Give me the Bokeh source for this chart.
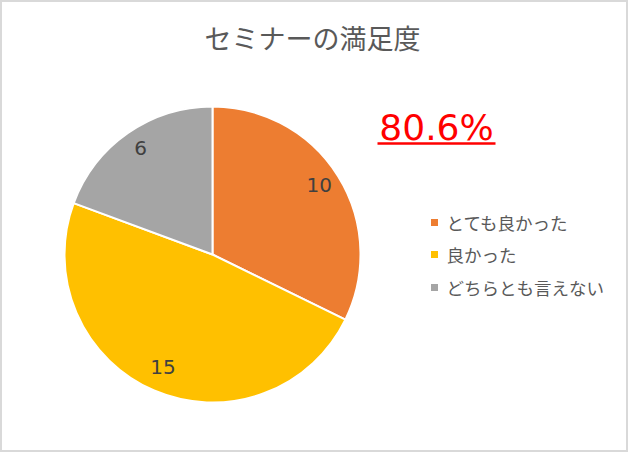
import math
from bokeh.plotting import figure
from bokeh.models import Range1d, ColumnDataSource, Label
from bokeh.core.properties import value
from bokeh.embed import file_html
from bokeh.resources import INLINE

# ---- data ----
title_text = "セミナーの満足度"
categories = ["とても良かった", "良かった", "どちらとも言えない"]
counts = [10, 15, 6]
colors = ["#ED7D31", "#FFC000", "#A5A5A5"]
highlight = "80.6%"

W, H = 628, 452
CJK = "Noto Sans CJK JP"

p = figure(width=W, height=H, output_backend="svg", toolbar_location=None,
           x_range=Range1d(0, W), y_range=Range1d(0, H), min_border=0)
p.axis.visible = False
p.grid.visible = False
p.outline_line_color = "#D9D9D9"
p.outline_line_width = 3
p.background_fill_color = "white"
p.border_fill_color = "white"

# pie geometry (screen coordinates -> data y = H - y)
cx, cy, r = 212, H - 254, 148
total = sum(counts)
starts, ends, mids = [], [], []
acc = 0
for c in counts:
    a0 = math.pi / 2 - 2 * math.pi * acc / total
    a1 = math.pi / 2 - 2 * math.pi * (acc + c) / total
    starts.append(a0)
    ends.append(a1)
    mids.append((a0 + a1) / 2)
    acc += c

src = ColumnDataSource(dict(start=starts, end=ends, color=colors,
                            x=[cx] * 3, y=[cy] * 3))
p.wedge(x="x", y="y", radius=r, start_angle="start", end_angle="end",
        direction="clock", fill_color="color", line_color="white",
        line_width=2, source=src)

lr = 0.85 * r
lsrc = ColumnDataSource(dict(
    x=[cx + lr * math.cos(m) for m in mids],
    y=[cy + lr * math.sin(m) for m in mids],
    t=[str(c) for c in counts]))
p.text(x="x", y="y", text="t", source=lsrc, text_align="center",
       text_baseline="middle", text_font=value("DejaVu Sans"),
       text_font_size="20px", text_color="#404040", y_offset=-3)

# title
p.add_layout(Label(x=312, y=H - 37, text=title_text, text_align="center",
                   text_baseline="middle", text_font=CJK,
                   text_font_size="27px", text_color="#595959"))

# highlight percentage with underline
p.add_layout(Label(x=436, y=H - 127, text=highlight, text_align="center",
                   text_baseline="middle", text_font="DejaVu Sans",
                   text_font_size="36px", text_color="#FF0000"))
p.segment(x0=[377], y0=[H - 143], x1=[495], y1=[H - 143],
          line_color="#FF0000", line_width=2.5)

# legend
ly = [H - 222, H - 254, H - 287]
leg = ColumnDataSource(dict(x=[434] * 3, y=ly, tx=[446] * 3,
                            label=categories, color=colors))
p.scatter(x="x", y="y", source=leg, marker="square", size=7,
          fill_color="color", line_color=None)
p.text(x="tx", y="y", text="label", source=leg, text_align="left",
       text_baseline="middle", text_font=value(CJK),
       text_font_size="17.5px", text_color="#595959")

open("out.html", "w").write(file_html(p, INLINE))
